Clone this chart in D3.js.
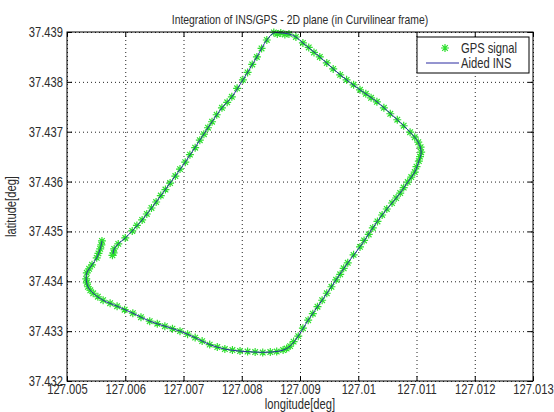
<!DOCTYPE html>
<html>
<head>
<meta charset="utf-8">
<script src="https://cdn.jsdelivr.net/npm/d3@7"></script>
<style>
  body { margin: 0; background: #fff; }
  svg { display: block; }
  text { font-family: "Liberation Sans", Arial, sans-serif; fill: #2b2b2b; }
</style>
</head>
<body>
<main></main>
<script>
const w = 554;
const h = 412;
const margin = { left: 67, right: 21, top: 32, bottom: 31 };
const squeeze = "scale(0.8,1)"; // the reference font is tall and narrow

const xTicks = [127.005, 127.006, 127.007, 127.008, 127.009, 127.01, 127.011, 127.012, 127.013];
const xTickLabels = ["127.005", "127.006", "127.007", "127.008", "127.009", "127.01", "127.011", "127.012", "127.013"];
const yTicks = [37.432, 37.433, 37.434, 37.435, 37.436, 37.437, 37.438, 37.439];
const yTickLabels = ["37.432", "37.433", "37.434", "37.435", "37.436", "37.437", "37.438", "37.439"];

// GPS fixes (green stars)
const gpsLon = [
  127.00578, 127.00580, 127.00581, 127.00588, 127.00600, 127.00612, 127.00620, 127.00629,
  127.00637, 127.00645, 127.00653, 127.00661, 127.00669, 127.00677, 127.00686, 127.00694,
  127.00703, 127.00711, 127.00720, 127.00728, 127.00735, 127.00742, 127.00749, 127.00757,
  127.00766, 127.00775, 127.00783, 127.00792, 127.00802, 127.00810, 127.00818, 127.00826,
  127.00834, 127.00843, 127.00855, 127.00861, 127.00867, 127.00874, 127.00881, 127.00893,
  127.00905, 127.00915, 127.00924, 127.00934, 127.00946, 127.00957, 127.00969, 127.00980,
  127.00992, 127.01003, 127.01013, 127.01022, 127.01032, 127.01044, 127.01055, 127.01067,
  127.01078, 127.01089, 127.01097, 127.01103, 127.01107, 127.01108, 127.01106, 127.01104,
  127.01100, 127.01097, 127.01091, 127.01085, 127.01078, 127.01072, 127.01065, 127.01058,
  127.01049, 127.01041, 127.01033, 127.01025, 127.01018, 127.01010, 127.01003, 127.00992,
  127.00982, 127.00975, 127.00969, 127.00962, 127.00954, 127.00946, 127.00938, 127.00930,
  127.00922, 127.00914, 127.00905, 127.00897, 127.00889, 127.00883, 127.00877, 127.00871,
  127.00860, 127.00849, 127.00836, 127.00823, 127.00810, 127.00797, 127.00784, 127.00771,
  127.00758, 127.00745, 127.00732, 127.00720, 127.00707, 127.00694, 127.00681, 127.00668,
  127.00655, 127.00642, 127.00627, 127.00613, 127.00599, 127.00586, 127.00574, 127.00562,
  127.00553, 127.00545, 127.00540, 127.00536, 127.00534, 127.00533, 127.00534, 127.00538,
  127.00543, 127.00551, 127.00554, 127.00557, 127.00559, 127.00560
];
const gpsLat = [
  37.43452, 37.43457, 37.43465, 37.43475, 37.43487, 37.43501, 37.43512, 37.43523,
  37.43535, 37.43547, 37.43559, 37.43572, 37.43584, 37.43597, 37.43611, 37.43625,
  37.43639, 37.43654, 37.43668, 37.43683, 37.43695, 37.43708, 37.43720, 37.43734,
  37.43748, 37.43759, 37.43770, 37.43787, 37.43804, 37.43819, 37.43835, 37.43850,
  37.43867, 37.43884, 37.43899, 37.43896, 37.43898, 37.43895, 37.43896, 37.43890,
  37.43878, 37.43869, 37.43859, 37.43850, 37.43838, 37.43826, 37.43814, 37.43804,
  37.43794, 37.43784, 37.43776, 37.43768, 37.43760, 37.43748, 37.43736, 37.43724,
  37.43712, 37.43699, 37.43689, 37.43679, 37.43669, 37.43659, 37.43650, 37.43641,
  37.43630, 37.43619, 37.43609, 37.43599, 37.43588, 37.43577, 37.43567, 37.43557,
  37.43545, 37.43533, 37.43520, 37.43507, 37.43494, 37.43482, 37.43469, 37.43453,
  37.43437, 37.43426, 37.43414, 37.43403, 37.43389, 37.43376, 37.43362, 37.43349,
  37.43335, 37.43322, 37.43306, 37.43290, 37.43279, 37.43270, 37.43265, 37.43262,
  37.43259, 37.43258, 37.43257, 37.43258, 37.43259, 37.43260, 37.43262, 37.43264,
  37.43268, 37.43273, 37.43280, 37.43287, 37.43294, 37.43300, 37.43305, 37.43310,
  37.43315, 37.43320, 37.43328, 37.43336, 37.43343, 37.43350, 37.43356, 37.43362,
  37.43369, 37.43376, 37.43382, 37.43389, 37.43397, 37.43405, 37.43417, 37.43425,
  37.43433, 37.43447, 37.43456, 37.43465, 37.43473, 37.43481
];

// aided INS solution (blue line)
const insLon = [
  127.00579, 127.00581, 127.00588, 127.00600, 127.00612, 127.00629, 127.00653, 127.00677,
  127.00703, 127.00728, 127.00749, 127.00766, 127.00783, 127.00802, 127.00826, 127.00843,
  127.00855, 127.00867, 127.00881, 127.00893, 127.00905, 127.00934, 127.00969, 127.01003,
  127.01032, 127.01067, 127.01089, 127.01103, 127.01108, 127.01104, 127.01097, 127.01085,
  127.01072, 127.01058, 127.01041, 127.01025, 127.01003, 127.00982, 127.00962, 127.00938,
  127.00914, 127.00897, 127.00883, 127.00871, 127.00849, 127.00823, 127.00797, 127.00771,
  127.00745, 127.00720, 127.00694, 127.00668, 127.00642, 127.00613, 127.00586, 127.00562,
  127.00545, 127.00536, 127.00533, 127.00534, 127.00543, 127.00551, 127.00557, 127.00560
];
const insLat = [
  37.43455, 37.43465, 37.43475, 37.43487, 37.43501, 37.43523, 37.43559, 37.43597,
  37.43639, 37.43683, 37.43720, 37.43748, 37.43770, 37.43804, 37.43850, 37.43884,
  37.43898, 37.43898, 37.43896, 37.43890, 37.43878, 37.43850, 37.43814, 37.43784,
  37.43760, 37.43724, 37.43699, 37.43679, 37.43659, 37.43641, 37.43619, 37.43599,
  37.43577, 37.43557, 37.43533, 37.43507, 37.43469, 37.43437, 37.43403, 37.43362,
  37.43322, 37.43290, 37.43270, 37.43262, 37.43258, 37.43258, 37.43260, 37.43264,
  37.43273, 37.43287, 37.43300, 37.43310, 37.43320, 37.43336, 37.43350, 37.43362,
  37.43376, 37.43389, 37.43405, 37.43417, 37.43433, 37.43447, 37.43465, 37.43481
];

const gpsColor = "#2ee02e";
const insColor = "#2a2aa0";
const starPath = "M-4,0H4M0,-4V4M-2.8,-2.8L2.8,2.8M-2.8,2.8L2.8,-2.8";

const svg = d3.select("main")
    .append("svg")
    .attr("width", w)
    .attr("height", h);

const xScale = d3.scaleLinear()
    .domain([127.005, 127.013])
    .range([margin.left, w - margin.right]);

const yScale = d3.scaleLinear()
    .domain([37.432, 37.439])
    .range([h - margin.bottom, margin.top]);

const plotW = w - margin.left - margin.right;
const plotH = h - margin.top - margin.bottom;

// dotted grid
svg.append("g")
    .attr("class", "grid")
    .attr("transform", "translate(0," + (h - margin.bottom) + ")")
    .call(d3.axisBottom(xScale).tickValues(xTicks).tickSize(-plotH).tickFormat(""));
svg.append("g")
    .attr("class", "grid")
    .attr("transform", "translate(" + margin.left + ",0)")
    .call(d3.axisLeft(yScale).tickValues(yTicks).tickSize(-plotW).tickFormat(""));
svg.selectAll(".grid .domain").remove();
svg.selectAll(".grid line")
    .attr("stroke", "#222")
    .attr("stroke-dasharray", "1,3");

// data
const gps = gpsLon.map((d, i) => [d, gpsLat[i]]);
const ins = insLon.map((d, i) => [d, insLat[i]]);

svg.append("g")
    .selectAll("path")
    .data(gps)
    .enter()
    .append("path")
    .attr("d", starPath)
    .attr("transform", d => "translate(" + xScale(d[0]) + "," + yScale(d[1]) + ")")
    .attr("fill", "none")
    .attr("stroke", gpsColor)
    .attr("stroke-width", 1.2);

const line = d3.line()
    .curve(d3.curveCatmullRom)
    .x(d => xScale(d[0]))
    .y(d => yScale(d[1]));

svg.append("path")
    .datum(ins)
    .attr("d", line)
    .attr("fill", "none")
    .attr("stroke", insColor)
    .attr("stroke-width", 1);

// axes with inward ticks on all four sides
function styleAxis(g) {
    g.select(".domain").remove();
    g.selectAll("line").attr("stroke", "#000");
    g.selectAll("text")
        .attr("transform", squeeze)
        .style("font-family", '"Liberation Sans", Arial, sans-serif')
        .style("font-size", "14px")
        .attr("fill", "#2b2b2b");
}

svg.append("g")
    .attr("transform", "translate(0," + (h - margin.bottom) + ")")
    .call(d3.axisBottom(xScale).tickValues(xTicks).tickSize(-5).tickPadding(3)
        .tickFormat((d, i) => xTickLabels[i]))
    .call(styleAxis);

svg.append("g")
    .attr("transform", "translate(" + margin.left + ",0)")
    .call(d3.axisLeft(yScale).tickValues(yTicks).tickSize(-5).tickPadding(5)
        .tickFormat((d, i) => yTickLabels[i]))
    .call(styleAxis);

svg.append("g")
    .attr("transform", "translate(0," + margin.top + ")")
    .call(d3.axisTop(xScale).tickValues(xTicks).tickSize(-5).tickFormat(""))
    .call(styleAxis);

svg.append("g")
    .attr("transform", "translate(" + (w - margin.right) + ",0)")
    .call(d3.axisRight(yScale).tickValues(yTicks).tickSize(-5).tickFormat(""))
    .call(styleAxis);

svg.append("rect")
    .attr("x", margin.left)
    .attr("y", margin.top)
    .attr("width", plotW)
    .attr("height", plotH)
    .attr("fill", "none")
    .attr("stroke", "#000");

// title and labels
svg.append("text")
    .attr("transform", "translate(" + (margin.left + plotW / 2) + ",24) " + squeeze)
    .attr("text-anchor", "middle")
    .style("font-size", "13px")
    .text("Integration of INS/GPS - 2D plane (in Curvilinear frame)");

svg.append("text")
    .attr("transform", "translate(" + (margin.left + plotW / 2) + ",409) " + squeeze)
    .attr("text-anchor", "middle")
    .style("font-size", "14px")
    .text("longitude[deg]");

svg.append("text")
    .attr("transform", "translate(16," + (margin.top + plotH / 2) + ") rotate(-90) " + squeeze)
    .attr("text-anchor", "middle")
    .style("font-size", "14px")
    .text("latitude[deg]");

// legend
const legend = svg.append("g").attr("transform", "translate(417,37)");
legend.append("rect")
    .attr("width", 112)
    .attr("height", 36)
    .attr("fill", "#fff")
    .attr("stroke", "#000");
legend.append("path")
    .attr("d", starPath)
    .attr("transform", "translate(28,11)")
    .attr("fill", "none")
    .attr("stroke", gpsColor)
    .attr("stroke-width", 1.2);
legend.append("text")
    .attr("transform", "translate(44,16) " + squeeze)
    .style("font-size", "14px")
    .text("GPS signal");
legend.append("line")
    .attr("x1", 9).attr("x2", 42)
    .attr("y1", 26).attr("y2", 26)
    .attr("stroke", insColor);
legend.append("text")
    .attr("transform", "translate(44,31) " + squeeze)
    .style("font-size", "14px")
    .text("Aided INS");
</script>
</body>
</html>
